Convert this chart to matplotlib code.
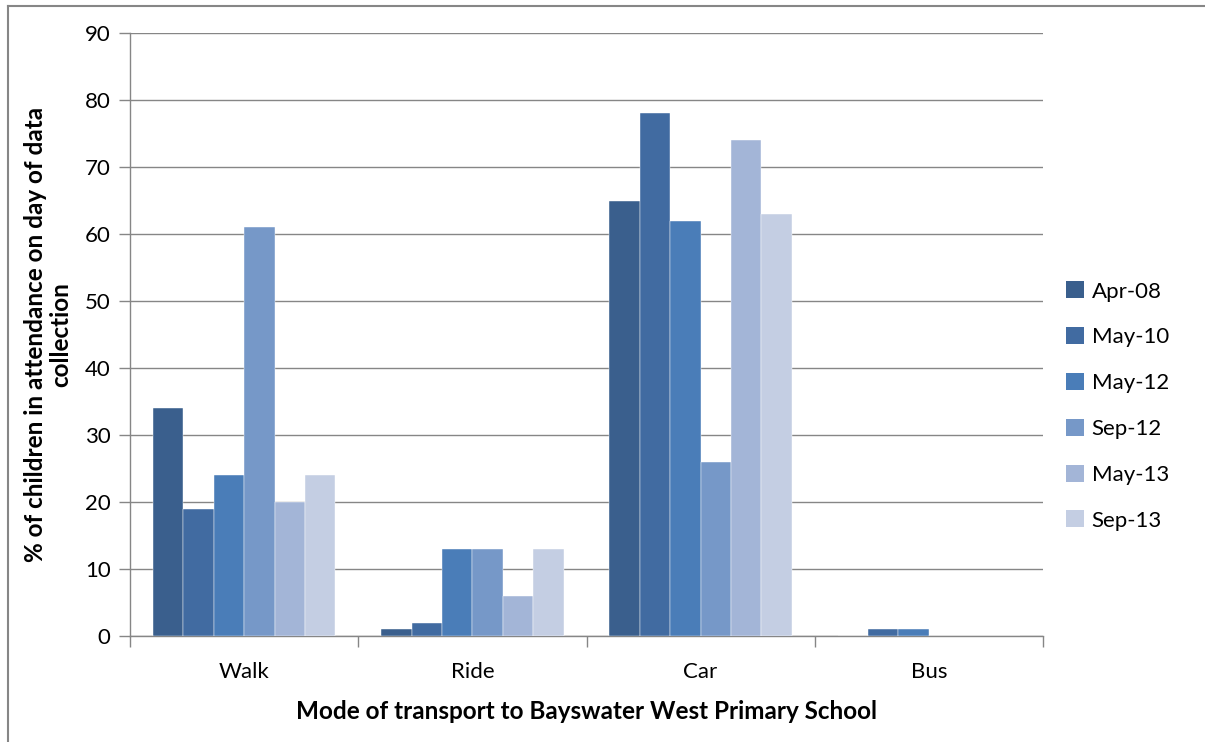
import matplotlib
matplotlib.use("Agg")
import matplotlib.pyplot as plt
import numpy as np
from matplotlib.patches import Patch
from matplotlib.lines import Line2D

modes = ["Walk", "Ride", "Car", "Bus"]
series_labels = ["Apr-08", "May-10", "May-12", "Sep-12", "May-13", "Sep-13"]
apr08 = [34, 1, 65, 0]
may10 = [19, 2, 78, 1]
may12 = [24, 13, 62, 1]
sep12 = [61, 13, 26, 0]
may13 = [20, 6, 74, 0]
sep13 = [24, 13, 63, 0]
series = [apr08, may10, may12, sep12, may13, sep13]
colors = ["#3A5F8D", "#416BA1", "#4A7DB8", "#7698C8", "#A3B5D7", "#C4CEE3"]
yticks = list(range(0, 91, 10))

plt.rcParams["font.family"] = ["Lato", "DejaVu Sans"]

W, H = 1205, 742
fig = plt.figure(figsize=(W / 100, H / 100), dpi=100)
ax = fig.add_axes([130 / W, 1 - 636 / H, (1043 - 130) / W, (636 - 33) / H])

grey = "#868686"
fs = 16
x = np.arange(len(modes))
bw = 0.8 / len(series)
for i, (vals, c, lab) in enumerate(zip(series, colors, series_labels)):
    ax.bar(x - 0.4 + bw * (i + 0.5), vals, width=bw, color=c, label=lab,
           edgecolor="white", linewidth=0.3, zorder=3)

ax.set_xlim(-0.5, len(modes) - 0.5)
ax.set_ylim(0, 90)
ax.set_yticks(yticks)
ax.yaxis.grid(True, color=grey, linewidth=1.0, zorder=0)
ax.tick_params(axis="y", length=8, width=1, color=grey, labelsize=fs, pad=6)
ax.set_xticks(x)
ax.set_xticklabels(modes, fontsize=fs)
ax.tick_params(axis="x", length=0, pad=19)
ax.set_xticks(np.arange(-0.5, len(modes), 1.0), minor=True)
ax.tick_params(axis="x", which="minor", length=8, width=1, color=grey)
for s in ("top", "right"):
    ax.spines[s].set_visible(False)
for s in ("left", "bottom"):
    ax.spines[s].set_color(grey)
    ax.spines[s].set_linewidth(1)

ax.set_xlabel("Mode of transport to Bayswater West Primary School",
              fontsize=17.5, fontweight="bold", labelpad=13)
ax.set_ylabel("% of children in attendance on day of data\ncollection",
              fontsize=17.5, fontweight="bold", labelpad=9, linespacing=1.1)

handles = [Patch(facecolor=c, edgecolor="none") for c in colors]
fig.legend(handles, series_labels, loc="center left",
           bbox_to_anchor=(1046 / W, 1 - 406 / H), frameon=False,
           fontsize=fs, handlelength=0.8, handleheight=0.8,
           handletextpad=0.35, labelspacing=1.15)

# outer chart border
fig.add_artist(Line2D([8 / W, 8 / W], [0, 1 - 6 / H], color=grey, linewidth=1.5))
fig.add_artist(Line2D([8 / W, 1], [1 - 6 / H, 1 - 6 / H], color=grey, linewidth=1.5))

fig.savefig("out.png", dpi=100, facecolor="white")
